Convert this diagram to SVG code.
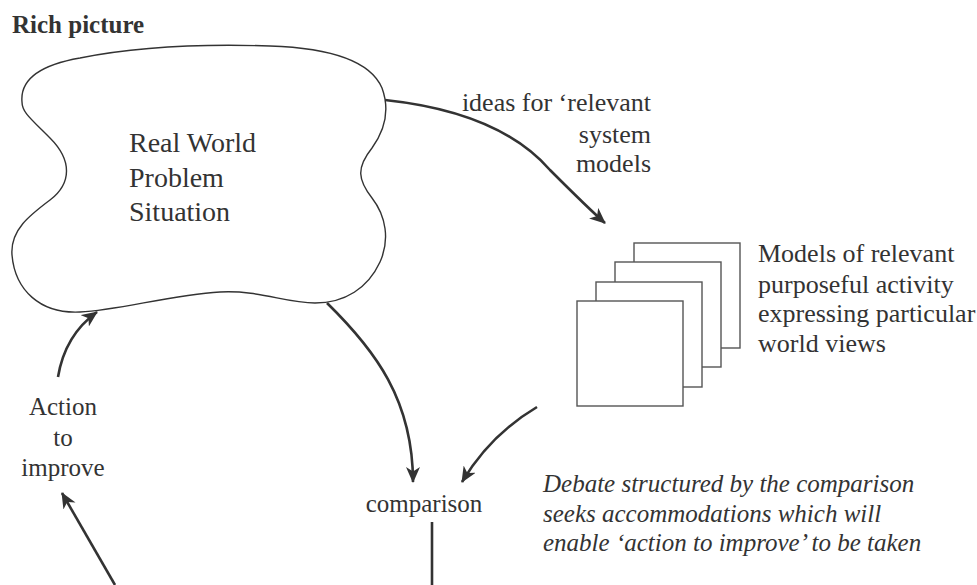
<svg xmlns="http://www.w3.org/2000/svg" width="977" height="585" viewBox="0 0 977 585">
  <style>
    text { font-family: "Liberation Serif", "Times New Roman", serif; fill: #333; }
    .title { font-size: 25px; font-weight: bold; }
    .cloud-label { font-size: 28px; }
    .label { font-size: 26px; }
    .small { font-size: 25px; }
    .note { font-size: 25px; font-style: italic; }
    .cloud { fill: #fff; stroke: #333; stroke-width: 1.4; }
    .sheet { fill: #fff; stroke: #555; stroke-width: 1.4; }
    .flow { fill: none; stroke: #333; stroke-width: 2.6; }
  </style>
  <defs>
    <marker id="head" markerWidth="18" markerHeight="14" refX="15" refY="7" orient="auto" markerUnits="userSpaceOnUse">
      <path d="M0,0 L16,7 L0,14 L4.5,7 Z" fill="#333"/>
    </marker>
  </defs>

  <rect width="977" height="585" fill="#fff"/>

  <text class="title" x="12" y="33">Rich picture</text>

  <g id="problem-situation">
    <path class="cloud" d="M22,102 C20,80 40,65 80,58 C140,46 210,44 270,46 C330,48 370,60 382,88 C390,110 385,130 372,148 C356,168 358,180 372,198 C386,216 390,240 380,262 C368,288 345,303 315,303 C285,303 260,290 220,292 C170,295 120,310 80,312 C40,314 15,290 12,255 C10,230 30,215 50,200 C72,183 72,160 50,138 C30,118 22,112 22,102 Z"/>
    <text class="cloud-label" x="129" y="152">Real World</text>
    <text class="cloud-label" x="129" y="187">Problem</text>
    <text class="cloud-label" x="129" y="221">Situation</text>
  </g>

  <g id="ideas-label">
    <text class="label" x="651" y="111" text-anchor="end">ideas for ‘relevant</text>
    <text class="label" x="651" y="143" text-anchor="end">system</text>
    <text class="label" x="651" y="172" text-anchor="end">models</text>
  </g>

  <g id="activity-models">
    <rect class="sheet" x="634" y="243" width="106" height="105"/>
    <rect class="sheet" x="615" y="262" width="106" height="105"/>
    <rect class="sheet" x="596" y="282" width="106" height="105"/>
    <rect class="sheet" x="577" y="301" width="106" height="105"/>
    <text class="label" x="758" y="262">Models of relevant</text>
    <text class="label" x="758" y="293">purposeful activity</text>
    <text class="label" x="758" y="322">expressing particular</text>
    <text class="label" x="758" y="352">world views</text>
  </g>

  <g id="comparison">
    <text class="small" x="424" y="512" text-anchor="middle">comparison</text>
  </g>

  <g id="debate-note">
    <text class="note" x="543" y="492">Debate structured by the comparison</text>
    <text class="note" x="543" y="522">seeks accommodations which will</text>
    <text class="note" x="543" y="551">enable ‘action to improve’ to be taken</text>
  </g>

  <g id="action">
    <text class="small" x="63" y="415" text-anchor="middle">Action</text>
    <text class="small" x="63" y="446" text-anchor="middle">to</text>
    <text class="small" x="63" y="476" text-anchor="middle">improve</text>
  </g>

  <g id="connectors">
    <path class="flow" d="M385,100 C460,108 515,130 550,170 C575,195 590,210 605,223" marker-end="url(#head)"/>
    <path class="flow" d="M327,303 C375,350 413,400 413,482" marker-end="url(#head)"/>
    <path class="flow" d="M537,407 Q490,435 462,482" marker-end="url(#head)"/>
    <path class="flow" d="M58,377 Q65,335 97,312" marker-end="url(#head)"/>
    <path class="flow" d="M115,585 L62,493" marker-end="url(#head)"/>
    <path class="flow" d="M432,522 L432,585"/>
  </g>
</svg>
